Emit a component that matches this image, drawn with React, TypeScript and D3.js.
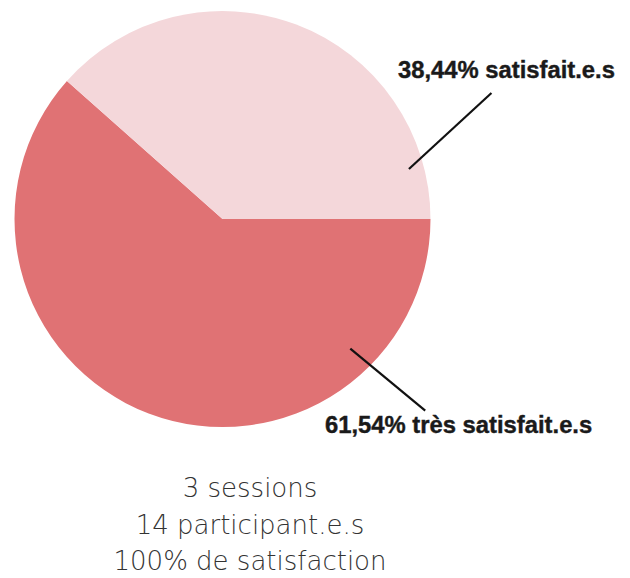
import React from "react";
import * as d3 from "d3";

const categories = ["très satisfait.e.s", "satisfait.e.s"];
const values = [61.54, 38.44];
const colors = ["#e07274", "#f4d7da"];
const summaryLines = ["3 sessions", "14 participant.e.s", "100% de satisfaction"];

const W = 630, H = 578;
const cx = 222.5, cy = 219, R = 208;

const fmt = (v: number) => v.toFixed(2).replace(".", ",") + "%";

export default function App() {
  const pie = d3.pie<number>().sort(null).startAngle(Math.PI / 2).endAngle(Math.PI / 2 + 2 * Math.PI);
  const arcs = pie(values);
  const arc = d3.arc<d3.PieArcDatum<number>>().innerRadius(0).outerRadius(R);
  const polar = (deg: number, r: number) => {
    const a = (deg * Math.PI) / 180;
    return [cx + r * Math.sin(a), cy - r * Math.cos(a)];
  };
  const leaders = [
    { a1: 135.4, r1: 182, a2: 133.4, r2: 279, lx: 325, ly: 433 },
    { a1: 75, r1: 193, a2: 64.9, r2: 297, lx: 398, ly: 77.5 },
  ];
  return (
    <svg width={W} height={H} style={{ position: "absolute", left: 0, top: 0, background: "#fff" }}>
      <g transform={`translate(${cx},${cy})`}>
        {arcs.map((d, i) => (
          <path key={i} d={arc(d) || ""} fill={colors[i]} />
        ))}
      </g>
      {leaders.map((l, i) => {
        const [x1, y1] = polar(l.a1, l.r1);
        const [x2, y2] = polar(l.a2, l.r2);
        return (
          <g key={i}>
            <line x1={x1} y1={y1} x2={x2} y2={y2} stroke="#111" strokeWidth={2.2} />
            <text x={l.lx} y={l.ly} fontFamily="'Liberation Sans', Arial, sans-serif" fontWeight={700} fontSize={23.8} fill="#1a1a1a" stroke="#1a1a1a" strokeWidth={0.4}>
              {fmt(values[i]) + " " + categories[i]}
            </text>
          </g>
        );
      })}
      {summaryLines.map((t, i) => (
        <text key={i} x={250} y={497 + i * 36.5} textAnchor="middle" fontFamily="'DejaVu Sans', sans-serif" fontWeight={200} fontSize={26} fill="#333">
          {t}
        </text>
      ))}
    </svg>
  );
}
